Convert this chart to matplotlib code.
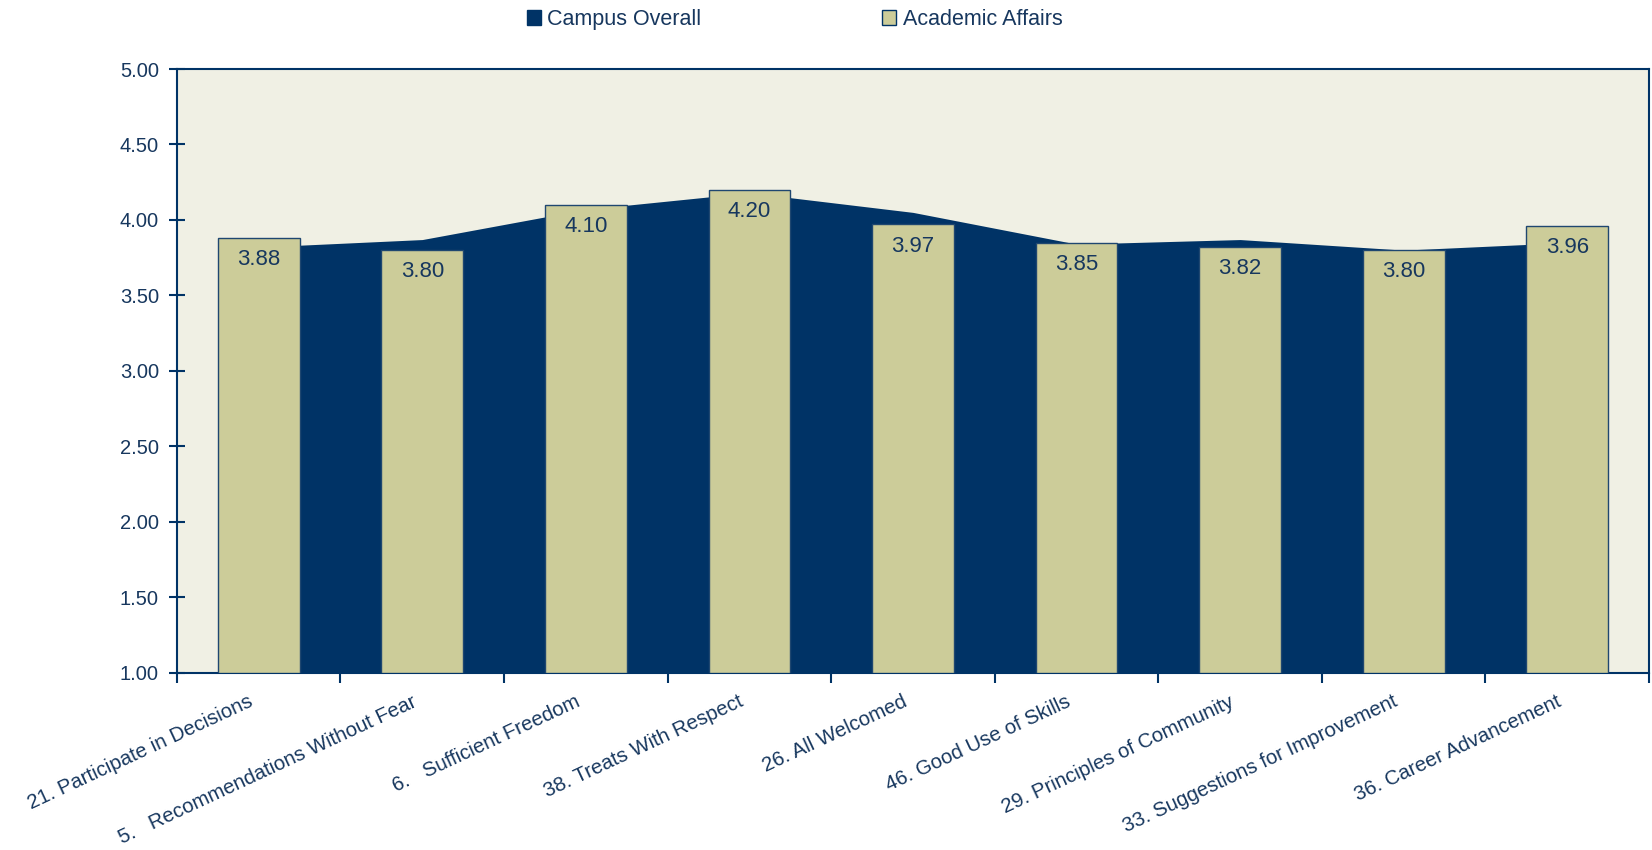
import numpy as np
import matplotlib.pyplot as plt
from matplotlib.patches import Patch
from matplotlib.ticker import FormatStrFormatter

plt.rcParams['font.family'] = ['Liberation Sans', 'DejaVu Sans']

# data
categories = ['21. Participate in Decisions',
              '5.   Recommendations Without Fear',
              '6.   Sufficient Freedom',
              '38. Treats With Respect',
              '26. All Welcomed',
              '46. Good Use of Skills',
              '29. Principles of Community',
              '33. Suggestions for Improvement',
              '36. Career Advancement']
campus_overall = [3.82, 3.87, 4.07, 4.18, 4.05, 3.84, 3.87, 3.80, 3.85]
academic_affairs = [3.88, 3.80, 4.10, 4.20, 3.97, 3.85, 3.82, 3.80, 3.96]

navy = '#003366'
khaki = '#CCCC99'
bg = '#F0F0E4'
txt = '#17375E'

x = np.arange(len(categories))

fig = plt.figure(figsize=(16.52, 8.5), dpi=100)
ax = fig.add_axes([0.1071, 0.2086, 0.8911, 0.7102])
ax.set_facecolor(bg)

# campus overall as area, academic affairs as bars in front
ax.fill_between(x, 1.0, campus_overall, color=navy, linewidth=0, zorder=2)
bars = ax.bar(x, np.array(academic_affairs) - 1.0, bottom=1.0, width=0.5,
              color=khaki, edgecolor='#1F4770', linewidth=1.0, zorder=3)

for xi, v in zip(x, academic_affairs):
    ax.annotate('%.2f' % v, (xi, v), xytext=(0, -8), textcoords='offset points',
                ha='center', va='top', fontsize=16, color=txt, zorder=4)

ax.set_xlim(-0.5, len(categories) - 0.5)
ax.set_ylim(1.0, 5.0)
ax.set_yticks(np.arange(1.0, 5.01, 0.5))
ax.yaxis.set_major_formatter(FormatStrFormatter('%.2f'))

# ticks at category boundaries, rotated labels near category centres
ax.set_xticks(np.arange(-0.5, len(categories), 1.0))
ax.set_xticklabels([])
for xi, cat in zip(x, categories):
    ax.annotate(cat, (xi, 0), xycoords=('data', 'axes fraction'),
                xytext=(-8, -14), textcoords='offset points',
                rotation=25, rotation_mode='anchor', ha='right', va='top',
                fontsize=14.7, color=txt, annotation_clip=False)

ax.tick_params(axis='x', which='major', direction='out', length=7, width=1.5, color=navy)
ax.tick_params(axis='y', direction='inout', length=12, width=1.5, color=navy,
               labelsize=14.5, labelcolor=txt, pad=7)

for s in ax.spines.values():
    s.set_color(navy)
    s.set_linewidth(1.5)

handles = [Patch(facecolor=navy, edgecolor=navy, label='Campus Overall'),
           Patch(facecolor=khaki, edgecolor=navy, label='Academic Affairs')]
leg = fig.legend(handles=handles, loc='center', bbox_to_anchor=(0.481, 0.977), ncol=2,
                 frameon=False, fontsize=15.5, handlelength=0.65, handleheight=0.65,
                 handletextpad=0.3, columnspacing=8.4)
for t in leg.get_texts():
    t.set_color(txt)

fig.savefig('out.png', dpi=100)
